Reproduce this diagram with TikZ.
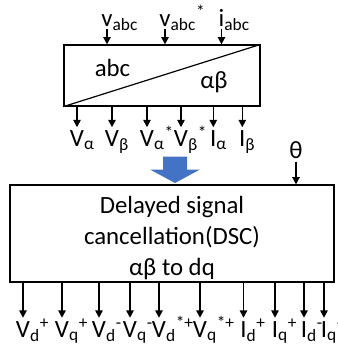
\documentclass[tikz,border=0pt]{standalone}
\usepackage{fontspec}
\setmainfont{Carlito}
\usetikzlibrary{arrows.meta}

\definecolor{arrowblue}{HTML}{4472C4}
\newcommand{\lbl}{\fontsize{18.6}{23.25}\selectfont}
\newcommand{\lsub}[1]{\rlap{\smash{\textsubscript{#1}}}}
\newcommand{\lsubsup}[2]{\rlap{\smash{\textsubscript{#1}\textsuperscript{#2}}}}

\begin{document}
\begin{tikzpicture}[x=0.75pt, y=-0.75pt,
  blk/.style={draw, line width=0.9pt, inner sep=0pt},
  txt/.style={font=\lbl, inner sep=0pt},
  lab/.style={font=\lbl, inner sep=0pt, outer sep=2.5pt},
  arr/.style={-{Triangle[length=5.5pt, width=5.5pt]}, line width=1.1pt}]
\useasboundingbox (0,0) rectangle (337,358);
% abc -> alpha-beta transform
\node[blk, minimum width=147pt, minimum height=45.75pt] (conv) at (162,75.5) {};
\draw[line width=0.9pt] (conv.south west) -- (conv.north east);
\node[txt, anchor=base] (abc) at (112.5,76.5) {abc};
\node[txt, anchor=base] (ab) at (214,88.5) {αβ};
% its inputs
\node[lab, anchor=base] (vabc) at (107,26) {v\lsub{abc}};
\node[lab, anchor=base] (vabcs) at (165,26) {v\lsubsup{abc}{*}};
\node[lab, anchor=base] (iabc) at (221.5,26) {i\lsub{abc}};
\draw[arr] (vabc.south) -- (vabc.south |- conv.north);
\draw[arr] (vabcs.south) -- (vabcs.south |- conv.north);
\draw[arr] (iabc.south) -- (iabc.south |- conv.north);
% its outputs
\node[lab, anchor=base] (va) at (77,146.5) {V\lsub{α}};
\node[lab, anchor=base] (vb) at (112,146.5) {V\lsub{β}};
\node[lab, anchor=base] (vas) at (147,146.5) {V\lsubsup{α}{*}};
\node[lab, anchor=base] (vbs) at (181,146.5) {V\lsubsup{β}{*}};
\node[lab, anchor=base] (ia) at (213.3,146.5) {I\lsub{α}};
\node[lab, anchor=base] (ib) at (242.3,146.5) {I\lsub{β}};
\draw[arr] (va |- conv.south) -- (va.north);
\draw[arr] (vb |- conv.south) -- (vb.north);
\draw[arr] (vas |- conv.south) -- (vas.north);
\draw[arr] (vbs |- conv.south) -- (vbs.north);
\draw[arr] (ia |- conv.south) -- (ia.north);
\draw[arr] (ib |- conv.south) -- (ib.north);
% block arrow down to the DSC stage
\fill[arrowblue] (163,156.5) -- (187,156.5) -- (187,169.5) -- (200,169.5)
  -- (175,183) -- (150,169.5) -- (163,169.5) -- cycle;
% DSC block
\node[blk, minimum width=243pt, minimum height=72.75pt] (dsc) at (172,233.5) {};
\node[txt, align=center] (dsctext) at (172,238)
  {Delayed signal\\cancellation(DSC)\\αβ to dq};
\node[lab, anchor=base] (theta) at (296,158) {θ};
\draw[arr] (theta.south) -- (theta.south |- dsc.north);
% dq outputs
\node[lab, anchor=base] (vdp) at (23,337) {V\lsubsup{d}{+}};
\node[lab, anchor=base] (vqp) at (62,337) {V\lsubsup{q}{+}};
\node[lab, anchor=base] (vdn) at (99,337) {V\lsubsup{d}{-}};
\node[lab, anchor=base] (vqn) at (130,337) {V\lsubsup{q}{-}};
\node[lab, anchor=base] (vdsp) at (159,337) {V\lsubsup{d}{*+}};
\node[lab, anchor=base] (vqsp) at (200,337) {V\lsubsup{q}{*+}};
\node[lab, anchor=base] (idp) at (243.5,337) {I\lsubsup{d}{+}};
\node[lab, anchor=base] (iqp) at (275,337) {I\lsubsup{q}{+}};
\node[lab, anchor=base] (idn) at (304,337) {I\lsubsup{d}{-}};
\node[lab, anchor=base] (iqn) at (324,337) {I\lsubsup{q}{-}};
\draw[arr] (vdp |- dsc.south) -- (vdp.north);
\draw[arr] (vqp |- dsc.south) -- (vqp.north);
\draw[arr] (vdn |- dsc.south) -- (vdn.north);
\draw[arr] (vqn |- dsc.south) -- (vqn.north);
\draw[arr] (vdsp |- dsc.south) -- (vdsp.north);
\draw[arr] (vqsp |- dsc.south) -- (vqsp.north);
\draw[arr] (idp |- dsc.south) -- (idp.north);
\draw[arr] (iqp |- dsc.south) -- (iqp.north);
\draw[arr] (idn |- dsc.south) -- (idn.north);
\draw[arr] (iqn |- dsc.south) -- (iqn.north);
\end{tikzpicture}
\end{document}
